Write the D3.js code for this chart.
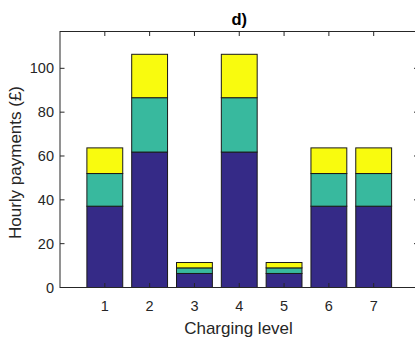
<!DOCTYPE html>
<html>
<head>
<meta charset="utf-8">
<script src="https://cdn.jsdelivr.net/npm/d3@7"></script>
<style>
  html, body { margin: 0; padding: 0; background: #fff; }
  svg { display: block; font-family: Arial, "Liberation Sans", Helvetica, sans-serif; }
</style>
</head>
<body>
<svg id="chart" width="415" height="345"></svg>
<script>
// Charging levels and the three stacked payment components (£/hour)
const levels = [1, 2, 3, 4, 5, 6, 7];
const baseValues   = [37.1, 61.8, 6.4, 61.8, 6.4, 37.1, 37.1];
const middleValues = [14.9, 24.8, 2.55, 24.8, 2.55, 14.9, 14.9];
const topValues    = [11.7, 19.8, 2.45, 19.8, 2.45, 11.7, 11.7];
const seriesColors = ["#352a87", "#38b99e", "#f9fb0e"];
const yTicks = [0, 20, 40, 60, 80, 100];

const svg = d3.select("#chart");
const plotLeft = 60, plotRight = 418.5, plotTop = 31.5, plotBottom = 287.5;
const axisColor = "#262626";

const x = d3.scaleLinear().domain([0, 8]).range([plotLeft, plotRight]);
const y = d3.scaleLinear().domain([0, 116.8]).range([plotBottom, plotTop]);

const rows = levels.map((lv, i) => ({ level: lv, a: baseValues[i], b: middleValues[i], c: topValues[i] }));
const stacked = d3.stack().keys(["a", "b", "c"])(rows);

const barW = (x(1) - x(0)) * 0.8;

const g = svg.append("g");
stacked.forEach((layer, k) => {
  g.selectAll(null).data(layer).join("rect")
    .attr("x", d => x(d.data.level) - barW / 2)
    .attr("y", d => y(d[1]))
    .attr("width", barW)
    .attr("height", d => y(d[0]) - y(d[1]))
    .attr("fill", seriesColors[k])
    .attr("stroke", "#1a1a1a")
    .attr("stroke-width", 1);
});

// Axes box with inward ticks on all sides
const box = svg.append("g");
box.append("rect")
  .attr("x", plotLeft).attr("y", plotTop)
  .attr("width", plotRight - plotLeft).attr("height", plotBottom - plotTop)
  .attr("fill", "none").attr("stroke", axisColor).attr("stroke-width", 1);

const tickLen = 4.5;
levels.forEach(v => {
  box.append("line").attr("x1", x(v)).attr("x2", x(v)).attr("y1", plotBottom).attr("y2", plotBottom - tickLen)
    .attr("stroke", axisColor);
  box.append("line").attr("x1", x(v)).attr("x2", x(v)).attr("y1", plotTop).attr("y2", plotTop + tickLen)
    .attr("stroke", axisColor);
  box.append("text").attr("x", x(v)).attr("y", plotBottom + 23)
    .attr("text-anchor", "middle").attr("font-size", 14.5).attr("fill", axisColor).text(v);
});
yTicks.forEach(v => {
  box.append("line").attr("x1", plotLeft).attr("x2", plotLeft + tickLen).attr("y1", y(v)).attr("y2", y(v))
    .attr("stroke", axisColor);
  box.append("line").attr("x1", plotRight).attr("x2", plotRight - tickLen).attr("y1", y(v)).attr("y2", y(v))
    .attr("stroke", axisColor);
  box.append("text").attr("x", plotLeft - 6).attr("y", y(v) + 5)
    .attr("text-anchor", "end").attr("font-size", 14.5).attr("fill", axisColor).text(v);
});

// Title and axis labels
svg.append("text").attr("x", (plotLeft + plotRight) / 2).attr("y", 24.5)
  .attr("text-anchor", "middle").attr("font-size", 16.5).attr("font-weight", "bold")
  .attr("fill", "#000").text("d)");
svg.append("text").attr("x", 238.5).attr("y", 333.5)
  .attr("text-anchor", "middle").attr("font-size", 17).attr("fill", axisColor).text("Charging level");
svg.append("text").attr("transform", "translate(20.5, 162.5) rotate(-90)")
  .attr("text-anchor", "middle").attr("font-size", 17).attr("fill", axisColor).text("Hourly payments (£)");
</script>
</body>
</html>
